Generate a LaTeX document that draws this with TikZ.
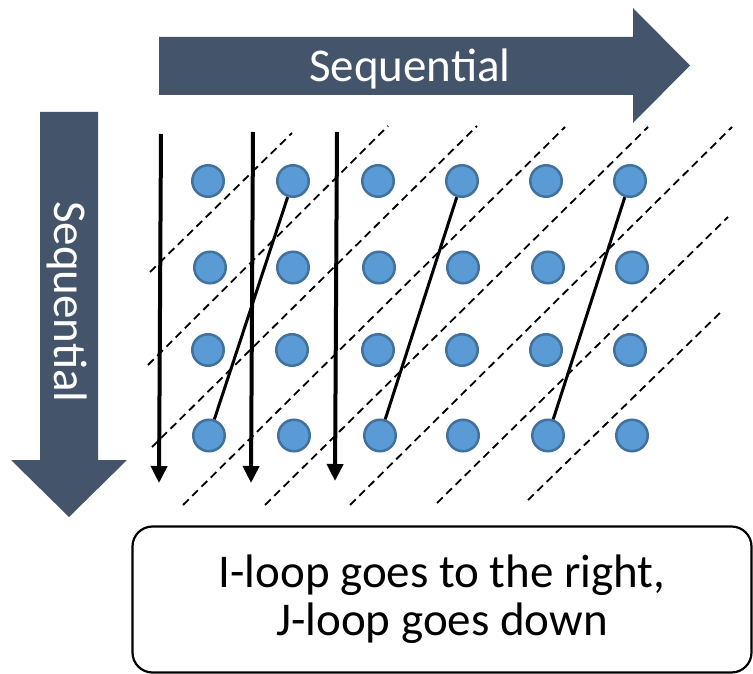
\documentclass[tikz,border=0pt]{standalone}
\usepackage{fontspec}
\setmainfont{Carlito}
\usetikzlibrary{arrows.meta}
\definecolor{bandblue}{HTML}{44546A}
\definecolor{dotfill}{HTML}{5B9BD5}
\definecolor{dotedge}{HTML}{41719C}
\tikzset{
  bigfont/.style={font=\fontsize{47}{48}\selectfont},
  band/.style={fill=bandblue, draw=none},
  bandlabel/.style={bigfont, text=white, inner sep=0pt},
  dot/.style={circle, minimum size=31.5pt, inner sep=0pt, fill=dotfill, draw=dotedge, line width=2.5pt},
  sweep/.style={line width=4pt, -{Triangle[width=16pt,length=17pt]}},
  hop/.style={line width=3pt},
  wave/.style={line width=1.8pt, dash pattern=on 8pt off 5pt},
  notebox/.style={draw, line width=2.2pt, rounded corners=20pt, minimum width=619pt,
    minimum height=146pt, align=center, bigfont}
}
\begin{document}
\begin{tikzpicture}[x=1pt, y=-1pt]
\useasboundingbox (0,0) rectangle (753,674);

% horizontal block arrow
\fill[band] (159,37) -- (633,37) -- (633,8) -- (690,65.5) -- (633,123) -- (633,95) -- (159,95) -- cycle;
\node[bandlabel, anchor=base] (hlabel) at (410,82) {Sequential};

% vertical block arrow
\fill[band] (40,112) -- (98,112) -- (98,460) -- (127,460) -- (69,517) -- (11,460) -- (40,460) -- cycle;
\node[bandlabel, anchor=base, rotate=-90] (vlabel) at (54,302) {Sequential};

% dashed diagonals
\foreach \i/\ax/\ay/\bx/\by in {1/150/272/292/133, 2/148/365/388/126, 3/152/447/477/126,
    4/183/505/565/127, 5/265/505/648/127, 6/350/505/732/127, 7/437/503/728/217, 8/528/500/723/310}
{
  \coordinate (d\i a) at (\ax,\ay);
  \coordinate (d\i b) at (\bx,\by);
  \draw[wave] (d\i a) -- (d\i b);
}

% grid of points
\foreach \r/\y/\xs in {1/181/{208,293,378,462,546,630},
                       2/267.5/{210,293,379,463,548,632},
                       3/350/{208,292,378,462,546,630},
                       4/435.5/{209,294,380,463,548,632}}
{
  \foreach \x [count=\c] in \xs
    \node[dot] (p\r\c) at (\x,\y) {};
}

% column sweeps
\coordinate (s1a) at (161,134); \coordinate (s1b) at (159,483);
\coordinate (s2a) at (253,132); \coordinate (s2b) at (251,483);
\coordinate (s3a) at (337,132); \coordinate (s3b) at (335,481);
\draw[sweep] (s1a) -- (s1b);
\draw[sweep] (s2a) -- (s2b);
\draw[sweep] (s3a) -- (s3b);

% jumps back to the top
\draw[hop] (p12) -- (p41);
\draw[hop] (p14) -- (p43);
\draw[hop] (p16) -- (p45);

% caption box
\node[notebox] (note) at (442,599.5) {I-loop goes to the right,\\J-loop goes down};
\end{tikzpicture}
\end{document}
